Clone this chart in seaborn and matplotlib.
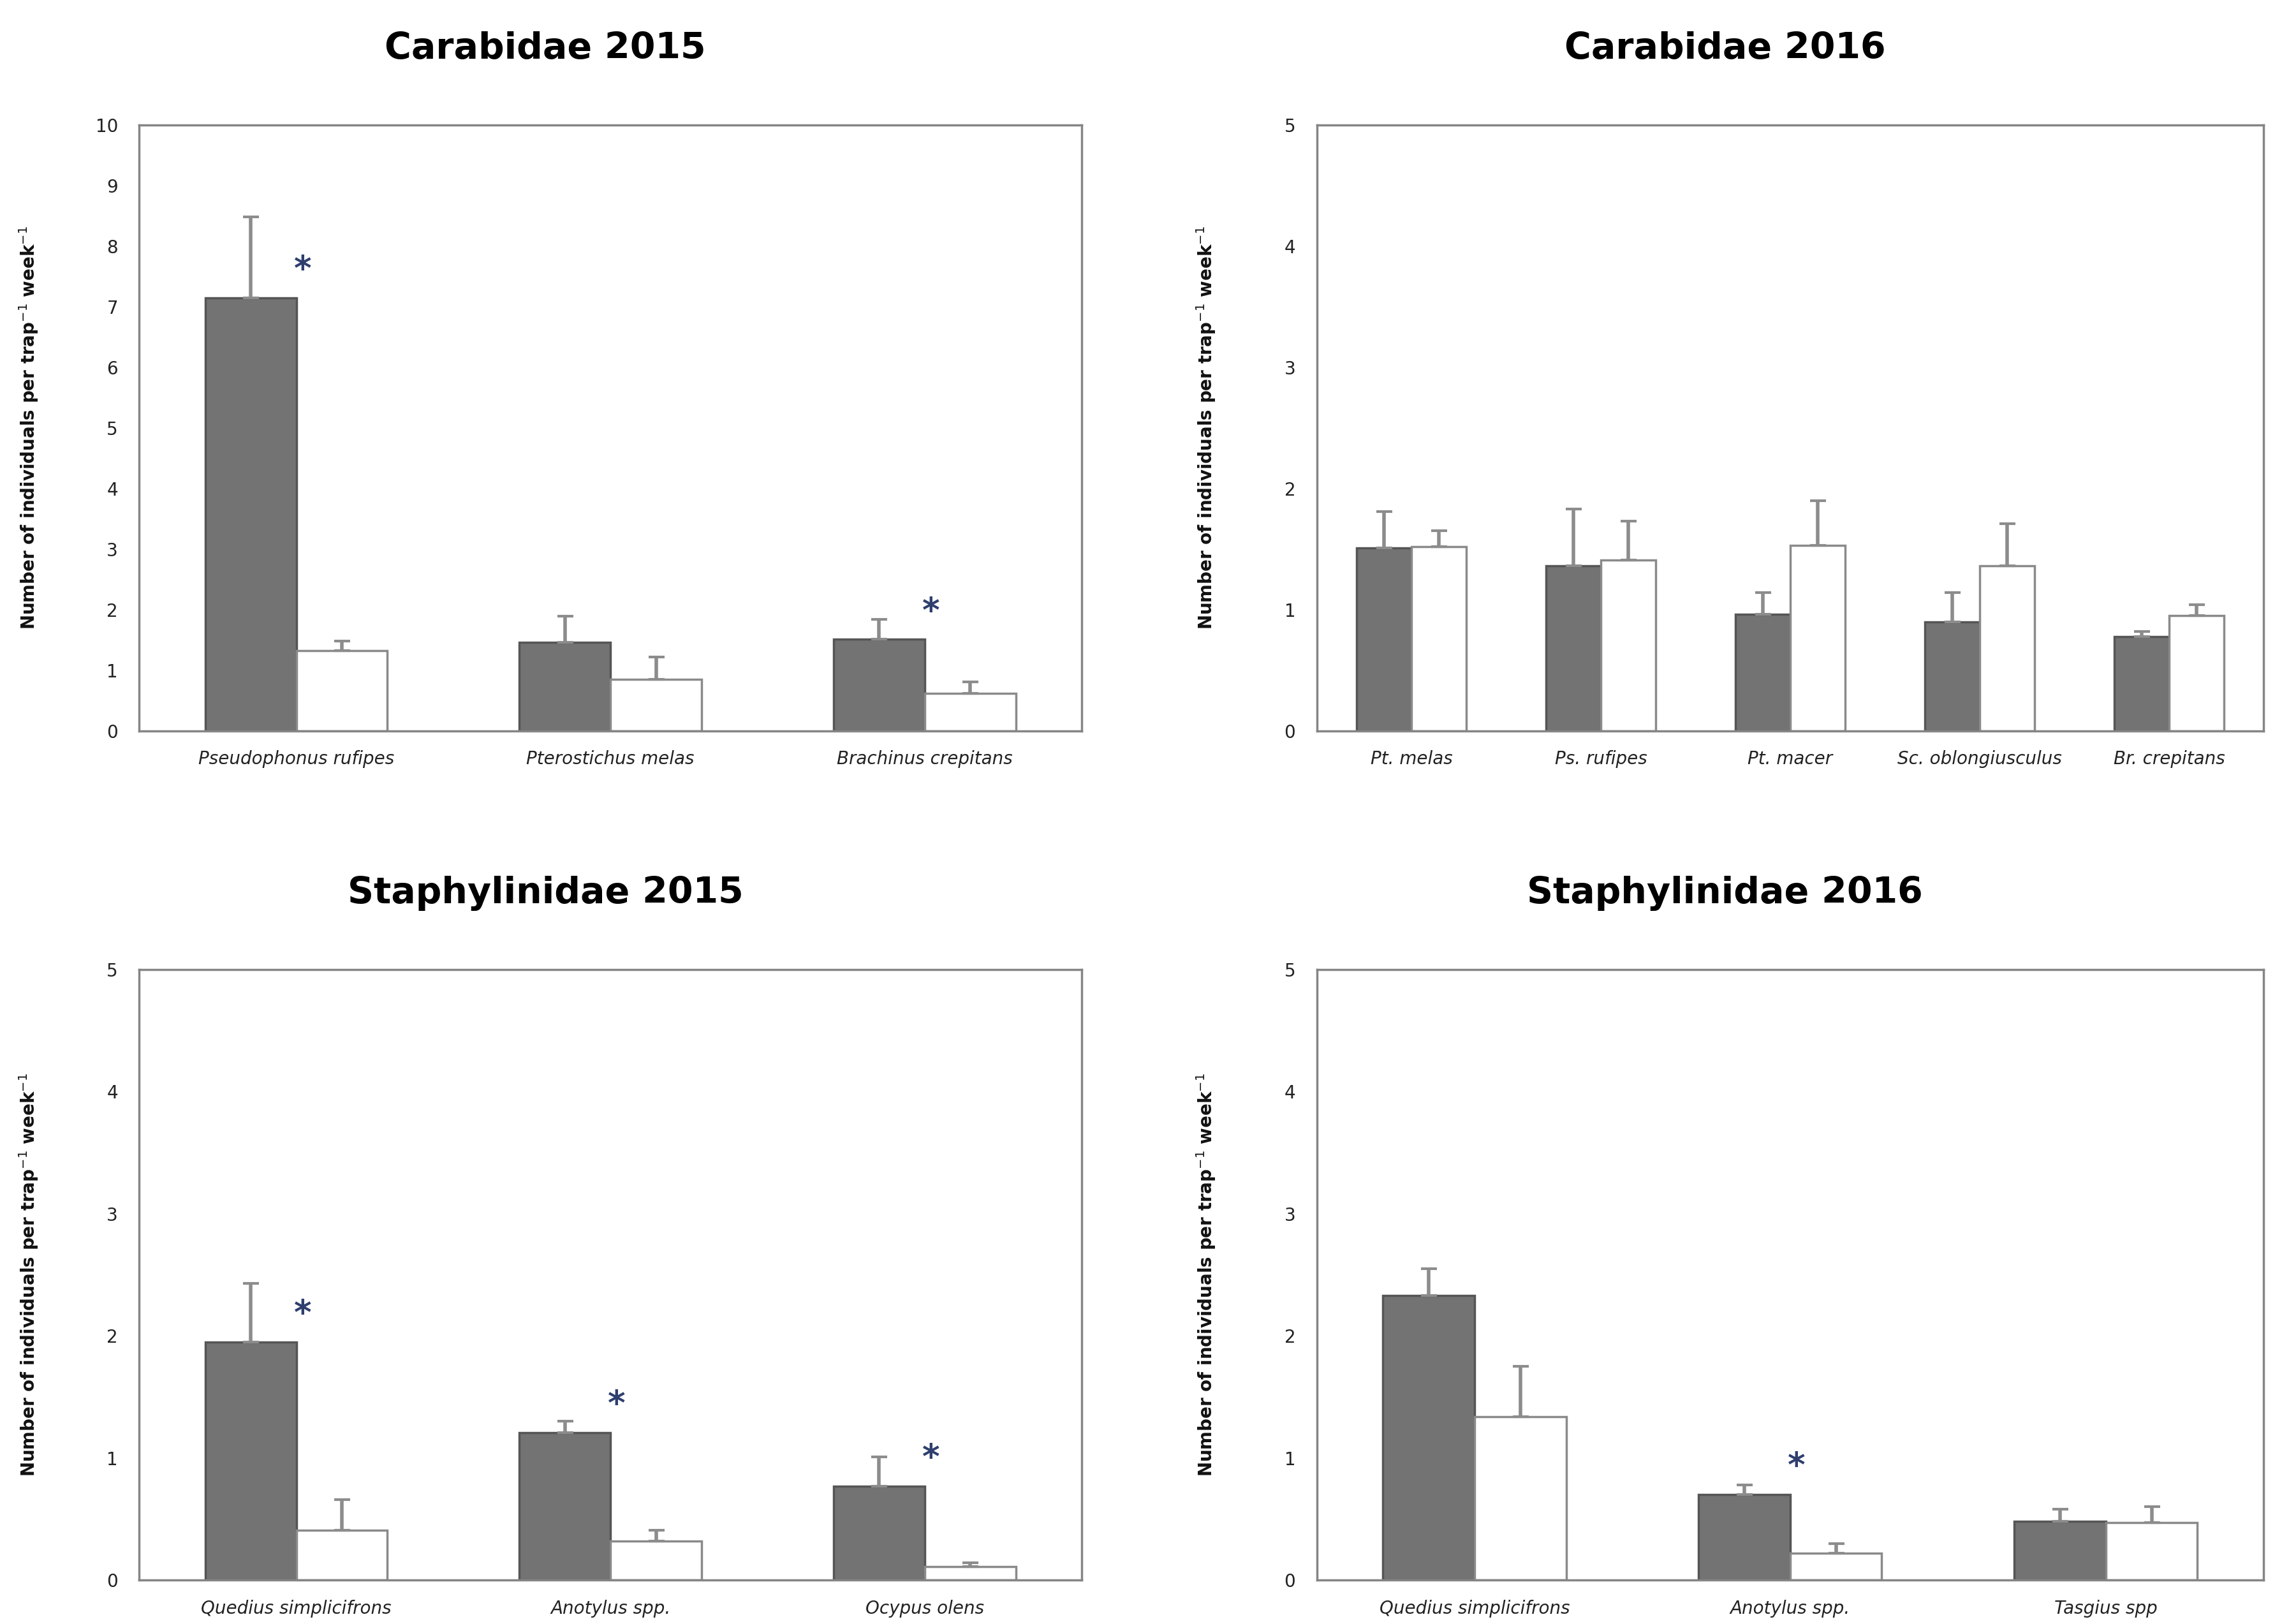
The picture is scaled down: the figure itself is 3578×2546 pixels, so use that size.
import matplotlib
matplotlib.use("Agg")
import matplotlib.pyplot as plt
import seaborn as sns
import pandas as pd
import numpy as np

# ---------------- data ----------------
c15_species = ["Pseudophonus rufipes", "Pterostichus melas", "Brachinus crepitans"]
c15_dark = [7.15, 1.46, 1.51]
c15_dark_se = [1.33, 0.43, 0.33]
c15_light = [1.32, 0.85, 0.62]
c15_light_se = [0.16, 0.37, 0.19]
c15_sig = [True, False, True]

c16_species = ["Pt. melas", "Ps. rufipes", "Pt. macer", "Sc. oblongiusculus", "Br. crepitans"]
c16_dark = [1.51, 1.36, 0.96, 0.90, 0.78]
c16_dark_se = [0.30, 0.47, 0.18, 0.24, 0.04]
c16_light = [1.52, 1.41, 1.53, 1.36, 0.95]
c16_light_se = [0.13, 0.32, 0.37, 0.35, 0.09]
c16_sig = [False, False, False, False, False]

s15_species = ["Quedius simplicifrons", "Anotylus spp.", "Ocypus olens"]
s15_dark = [1.95, 1.21, 0.77]
s15_dark_se = [0.48, 0.09, 0.24]
s15_light = [0.41, 0.32, 0.11]
s15_light_se = [0.25, 0.09, 0.03]
s15_sig = [True, True, True]

s16_species = ["Quedius simplicifrons", "Anotylus spp.", "Tasgius spp"]
s16_dark = [2.33, 0.70, 0.48]
s16_dark_se = [0.22, 0.08, 0.10]
s16_light = [1.34, 0.22, 0.47]
s16_light_se = [0.41, 0.08, 0.13]
s16_sig = [False, True, False]

titles = ["Carabidae 2015", "Carabidae 2016", "Staphylinidae 2015", "Staphylinidae 2016"]
ylims = [10, 5, 5, 5]
groups = ["dark", "light"]

panels = [
    (c15_species, c15_dark, c15_dark_se, c15_light, c15_light_se, c15_sig),
    (c16_species, c16_dark, c16_dark_se, c16_light, c16_light_se, c16_sig),
    (s15_species, s15_dark, s15_dark_se, s15_light, s15_light_se, s15_sig),
    (s16_species, s16_dark, s16_dark_se, s16_light, s16_light_se, s16_sig),
]

# ---------------- style ----------------
sns.set_style("white")
plt.rcParams["font.family"] = ["DejaVu Sans"]

DARK = "#737373"
DARK_EDGE = "#555555"
LIGHT_EDGE = "#8a8a8a"
SPINE = "#858585"
ERR = "#8c8c8c"

fig = plt.figure(figsize=(35.78, 25.46), dpi=100)
rects = [
    [0.061, 0.550, 0.413, 0.373],
    [0.577, 0.550, 0.415, 0.373],
    [0.061, 0.027, 0.413, 0.376],
    [0.577, 0.027, 0.415, 0.376],
]

for rect, title, ymax, (species, dark, dark_se, light, light_se, sig) in zip(rects, titles, ylims, panels):
    ax = fig.add_axes(rect)
    df = pd.DataFrame({
        "species": list(species) * 2,
        "group": ["dark"] * len(species) + ["light"] * len(species),
        "value": list(dark) + list(light),
    })
    sns.barplot(data=df, x="species", y="value", hue="group", order=species,
                hue_order=groups, palette={"dark": DARK, "light": "white"},
                width=0.58, errorbar=None, legend=False, ax=ax, saturation=1)

    se_by_group = {"dark": dark_se, "light": light_se}
    for cont, g in zip(ax.containers, groups):
        xs, hs = [], []
        for bar in cont:
            bar.set_edgecolor(DARK_EDGE if g == "dark" else LIGHT_EDGE)
            bar.set_linewidth(2.5)
            xs.append(bar.get_x() + bar.get_width() / 2)
            hs.append(bar.get_height())
        se = np.array(se_by_group[g])
        ax.errorbar(xs, hs, yerr=[np.zeros_like(se), se], fmt="none",
                    ecolor=ERR, elinewidth=4, capsize=9, capthick=3, zorder=1)

    # significance asterisks
    dark_cont = ax.containers[0]
    for bar, s in zip(dark_cont, sig):
        if s:
            x = bar.get_x() + bar.get_width() + 0.02
            y = bar.get_height() + 0.045 * ymax
            ax.text(x, y, "*", ha="center", va="center", fontsize=38,
                    color="#2e3f6e", fontweight="bold")

    n = len(species)
    ax.set_xlim(-0.5, n - 0.5)
    ax.set_ylim(0, ymax)
    ax.set_yticks(np.arange(0, ymax + 1, 1))
    ax.set_xticks(np.arange(n))
    ax.set_xticklabels(species, fontstyle="italic", fontsize=20, color="#222222")
    ax.set_xticks(np.arange(-0.5, n, 1.0), minor=True)
    ax.tick_params(axis="x", which="major", length=0, pad=22)
    ax.tick_params(axis="x", which="minor", length=14, width=2, color=SPINE, direction="out")
    ax.tick_params(axis="y", which="major", length=12, width=2, color=SPINE,
                   direction="out", labelsize=20, labelcolor="#222222", pad=12)
    for sp in ax.spines.values():
        sp.set_visible(True)
        sp.set_color(SPINE)
        sp.set_linewidth(2.5)
    ax.set_xlabel("")
    ax.set_ylabel("Number of individuals per trap$^{-1}$ week$^{-1}$",
                  fontsize=20, fontweight="bold", color="#111111")
    ax.yaxis.set_label_coords(-0.105, 0.5)
    ax.set_title(title, fontsize=41, fontweight="bold", x=0.431, pad=75, color="black")

fig.savefig("out.png", dpi=100)
